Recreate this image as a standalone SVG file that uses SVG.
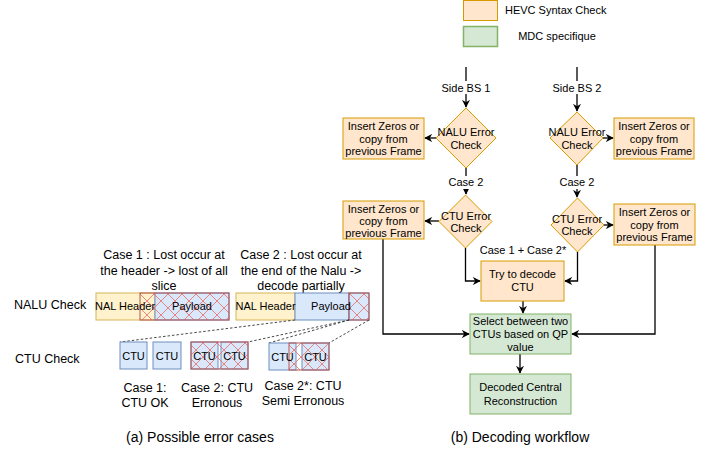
<svg xmlns="http://www.w3.org/2000/svg" width="715" height="452" viewBox="0 0 715 452">
<style>
text{font-family:"Liberation Sans",Arial,sans-serif;fill:#000;text-anchor:middle}
.t11{font-size:11px}
.t12{font-size:12.5px}
.t14{font-size:14px}
.or{fill:#ffe6cc;stroke:#d79b00;stroke-width:1}
.yl{fill:#fff2cc;stroke:#d6b656;stroke-width:1}
.bl{fill:#dae8fc;stroke:#6c8ebf;stroke-width:1}
.gr{fill:#d5e8d4;stroke:#82b366;stroke-width:1}
.rd{fill:url(#hatch);stroke:#b85450;stroke-width:1}
.ln{fill:none;stroke:#000;stroke-width:1.3}
.ds{fill:none;stroke:#333;stroke-width:0.9;stroke-dasharray:2.5 2}
</style>
<defs>
<pattern id="hatch" patternUnits="userSpaceOnUse" width="14" height="14">
<path d="M0 0L14 14M14 0L0 14" stroke="#ea6b66" stroke-width="0.8" fill="none"/>
</pattern>
<marker id="ah" viewBox="0 0 10 10" refX="9" refY="5" markerWidth="8" markerHeight="8" markerUnits="userSpaceOnUse" orient="auto">
<path d="M0 0L10 5L0 10L3 5z" fill="#000"/>
</marker>
</defs>

<g id="legend">
<rect x="463.5" y="0.5" width="34" height="20" class="or" stroke-width="1.5"/>
<text x="505" y="14" class="t11" style="text-anchor:start">HEVC Syntax Check</text>
<rect x="463.5" y="26.5" width="34" height="20" fill="#d5e8d4" stroke="#82b366" stroke-width="1.5"/>
<text x="557" y="40" class="t11">MDC specifique</text>
</g>

<g id="connectors">
<path class="ln" d="M466 67V107" marker-end="url(#ah)"/>
<path class="ln" d="M577 67V111" marker-end="url(#ah)"/>
<path class="ln" d="M436 138H425" marker-end="url(#ah)"/>
<path class="ln" d="M603 138H613" marker-end="url(#ah)"/>
<path class="ln" d="M466 168V194" marker-end="url(#ah)"/>
<path class="ln" d="M577 165V197" marker-end="url(#ah)"/>
<path class="ln" d="M439 221H425" marker-end="url(#ah)"/>
<path class="ln" d="M604 225H613" marker-end="url(#ah)"/>
<path class="ln" d="M465.5 248V281H480" marker-end="url(#ah)"/>
<path class="ln" d="M577.5 252V281H565" marker-end="url(#ah)"/>
<path class="ln" d="M523 301V313" marker-end="url(#ah)"/>
<path class="ln" d="M383 239V334H469" marker-end="url(#ah)"/>
<path class="ln" d="M655 245V334H572" marker-end="url(#ah)"/>
<path class="ln" d="M520 354V373" marker-end="url(#ah)"/>
<rect x="440" y="81" width="52" height="13" fill="#fff"/>
<text x="466" y="92" class="t11">Side BS 1</text>
<rect x="551" y="81" width="52" height="13" fill="#fff"/>
<text x="577" y="92" class="t11">Side BS 2</text>
<rect x="446" y="176" width="40" height="13" fill="#fff"/>
<text x="466" y="186" class="t11">Case 2</text>
<rect x="557" y="176" width="40" height="13" fill="#fff"/>
<text x="577" y="186" class="t11">Case 2</text>
<text x="523" y="254" class="t11">Case 1 + Case 2*</text>
</g>

<g id="nalu1">
<path class="or" d="M466 108L496 138L466 168L436 138Z"/>
<text x="466" y="136" class="t11">NALU Error</text>
<text x="466" y="149" class="t11">Check</text>
</g>
<g id="nalu2">
<path class="or" d="M577 112L603 138L577 165L550 138Z"/>
<text x="577" y="136" class="t11">NALU Error</text>
<text x="577" y="149" class="t11">Check</text>
</g>
<g id="ins1">
<rect x="343" y="118" width="81" height="41" class="or"/>
<text x="383.5" y="130" class="t11">Insert Zeros or</text>
<text x="383.5" y="143" class="t11">copy from</text>
<text x="383.5" y="155" class="t11">previous Frame</text>
</g>
<g id="ins2">
<rect x="614" y="118" width="80" height="41" class="or"/>
<text x="654" y="130" class="t11">Insert Zeros or</text>
<text x="654" y="143" class="t11">copy from</text>
<text x="654" y="155" class="t11">previous Frame</text>
</g>
<g id="ctu1">
<path class="or" d="M465.5 195L492 221.5L465.5 248L439 221.5Z"/>
<text x="466" y="220" class="t11">CTU Error</text>
<text x="466" y="232" class="t11">Check</text>
</g>
<g id="ctu2">
<path class="or" d="M577.5 198L604 225L577.5 252L551 225Z"/>
<text x="577" y="223" class="t11">CTU Error</text>
<text x="577" y="235" class="t11">Check</text>
</g>
<g id="ins3">
<rect x="343" y="201" width="81" height="38" class="or"/>
<text x="383.5" y="213" class="t11">Insert Zeros or</text>
<text x="383.5" y="225" class="t11">copy from</text>
<text x="383.5" y="237" class="t11">previous Frame</text>
</g>
<g id="ins4">
<rect x="614" y="204" width="81" height="41" class="or"/>
<text x="654.5" y="216" class="t11">Insert Zeros or</text>
<text x="654.5" y="229" class="t11">copy from</text>
<text x="654.5" y="241" class="t11">previous Frame</text>
</g>
<g id="try">
<rect x="481" y="261" width="83" height="40" class="or" stroke-width="1.5"/>
<text x="522.5" y="278" class="t11">Try to decode</text>
<text x="522.5" y="291" class="t11">CTU</text>
</g>
<g id="select">
<rect x="470" y="314" width="101" height="40" class="gr"/>
<text x="520.5" y="325" class="t11">Select between two</text>
<text x="520.5" y="338" class="t11">CTUs based on QP</text>
<text x="520.5" y="351" class="t11">value</text>
</g>
<g id="decoded">
<rect x="470" y="374" width="101" height="40" class="gr"/>
<text x="520.5" y="391" class="t11">Decoded Central</text>
<text x="520.5" y="405" class="t11">Reconstruction</text>
</g>
<text x="520" y="442" class="t14">(b) Decoding workflow</text>

<!-- left part -->
<g id="labels-left">
<text x="164" y="259" class="t12">Case 1 : Lost occur at</text>
<text x="164" y="275" class="t12">the header  -&gt; lost of all</text>
<text x="164" y="290" class="t12">slice</text>
<text x="301" y="259" class="t12">Case 2 : Lost occur at</text>
<text x="301" y="275" class="t12">the end of the Nalu -&gt;</text>
<text x="301" y="290" class="t12">decode partially</text>
<text x="14" y="309" class="t12" style="text-anchor:start">NALU Check</text>
<text x="15" y="363" class="t12" style="text-anchor:start">CTU Check</text>
</g>
<g id="bar1">
<rect x="96" y="293" width="59" height="27" class="yl"/>
<rect x="155" y="293" width="74" height="27" class="bl"/>
<rect x="140" y="293" width="89" height="27" class="rd"/>
<text x="125" y="310" class="t11">NAL Header</text>
<text x="192" y="310" class="t11">Payload</text>
</g>
<g id="bar2">
<rect x="236" y="293" width="59" height="27" class="yl"/>
<rect x="295" y="293" width="54" height="27" class="bl"/>
<rect x="349" y="293" width="20" height="27" class="bl"/>
<rect x="349" y="293" width="20" height="27" class="rd"/>
<text x="265.5" y="310" class="t11">NAL Header</text>
<text x="331" y="310" class="t11">Payload</text>
</g>
<g id="dashes">
<path class="ds" d="M295 320L120 342"/>
<path class="ds" d="M349 320L248 342"/>
<path class="ds" d="M349 320L269 343"/>
<path class="ds" d="M369 320L329 343"/>
</g>
<g id="ctus">
<rect x="120" y="342" width="27" height="27" class="bl"/>
<text x="133.5" y="360" class="t11">CTU</text>
<rect x="153" y="342" width="28" height="27" class="bl"/>
<text x="167" y="360" class="t11">CTU</text>
<rect x="191" y="342" width="27" height="27" class="bl"/>
<rect x="221" y="342" width="27" height="27" class="bl"/>
<rect x="191" y="342" width="57" height="27" class="rd"/>
<text x="204.5" y="360" class="t11">CTU</text>
<text x="234.5" y="360" class="t11">CTU</text>
<rect x="269" y="343" width="27" height="27" class="bl"/>
<rect x="302" y="343" width="27" height="27" class="bl"/>
<rect x="289" y="343" width="40" height="27" class="rd"/>
<text x="282.5" y="361" class="t11">CTU</text>
<text x="315.5" y="361" class="t11">CTU</text>
</g>
<g id="case-labels">
<text x="145" y="392" class="t12">Case 1:</text>
<text x="145" y="407" class="t12">CTU OK</text>
<text x="217" y="392" class="t12">Case 2: CTU</text>
<text x="217" y="407" class="t12">Erronous</text>
<text x="303" y="390" class="t12">Case 2*: CTU</text>
<text x="303" y="405" class="t12">Semi Erronous</text>
</g>
<text x="200" y="442" class="t14">(a) Possible error cases</text>
</svg>
